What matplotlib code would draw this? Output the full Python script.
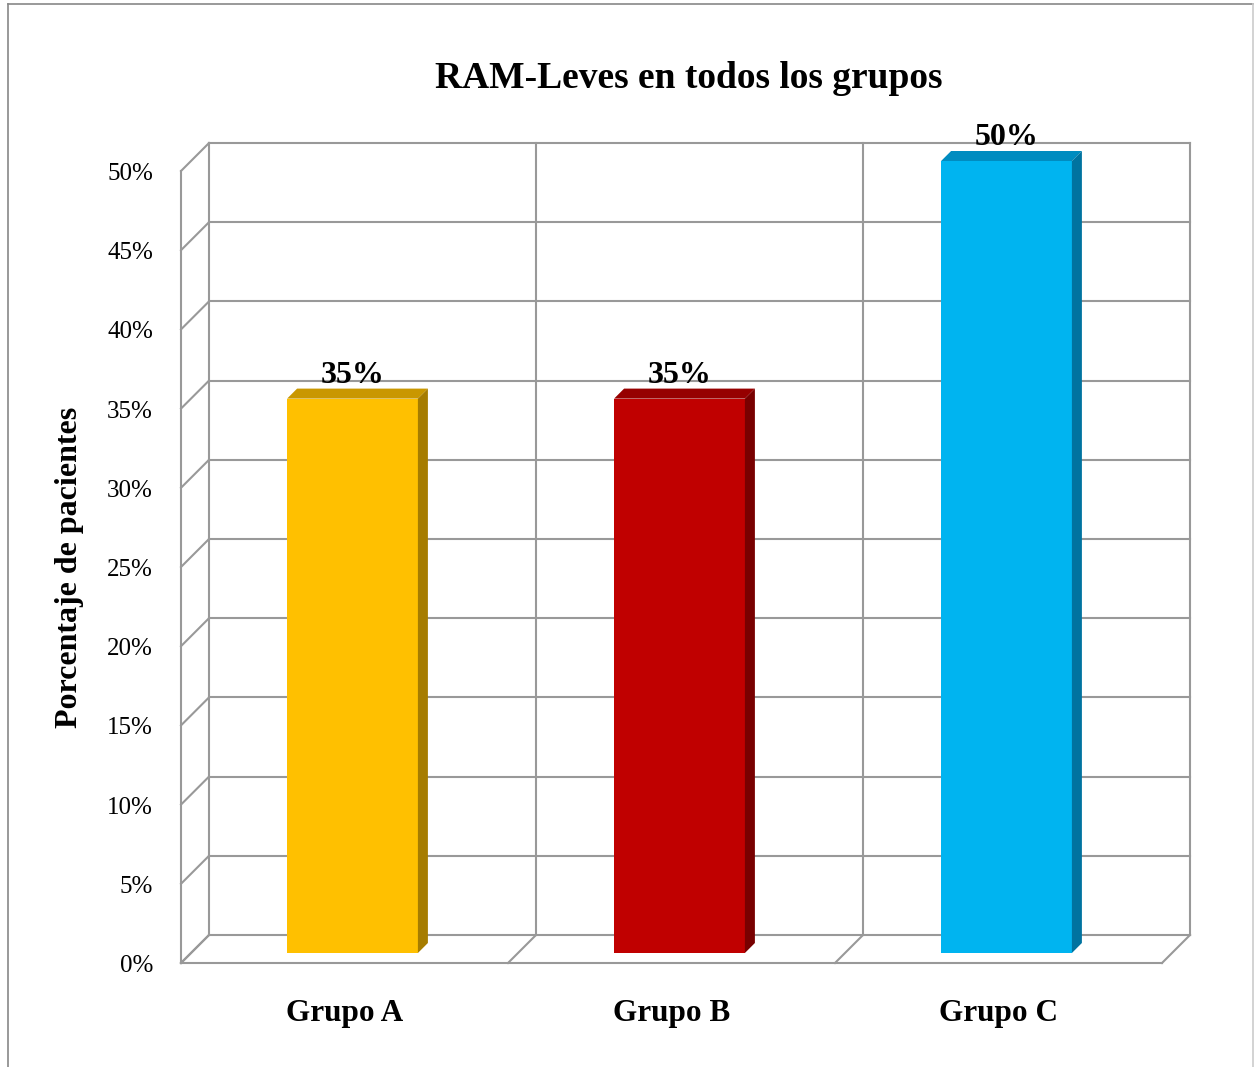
import matplotlib.pyplot as plt
from matplotlib.patches import Polygon
from matplotlib.lines import Line2D

# Data
categories = ['Grupo A', 'Grupo B', 'Grupo C']
values = [35, 35, 50]
yticks = [0, 5, 10, 15, 20, 25, 30, 35, 40, 45, 50]

front_colors = ['#FFC000', '#C00000', '#00B4F0']
top_colors = ['#C99700', '#960000', '#008CC0']
side_colors = ['#A67C00', '#780000', '#0073A0']

plt.rcParams['font.family'] = ['Liberation Serif', 'DejaVu Serif']

W, H = 1255, 1067
fig = plt.figure(figsize=(W / 100, H / 100), dpi=100)
ax = fig.add_axes([181 / W, (H - 963) / H, 981 / W, 792 / H])
ax.set_xlim(0, 3)
ax.set_ylim(0, 50)
ax.axis('off')

# pixel -> data units, used for the fake 3D depth
kx = 3 / 981
ky = 50 / 792
WALL = 28      # depth of back wall in px
BAR_F = 10     # depth of bar front face
BAR_B = 20     # depth of bar back face


def proj(x, y, d):
    return x + d * kx, y + d * ky


grid = dict(color='#999999', lw=1.5, clip_on=False, zorder=1)

# back wall horizontal lines and side wall diagonals
for t in yticks:
    x0, y0 = proj(0, t, WALL)
    x1, y1 = proj(3, t, WALL)
    ax.plot([x0, x1], [y0, y1], **grid)
    ax.plot([0, x0], [t, y0], **grid)

# back wall verticals and floor diagonals
for i in range(4):
    xb, yb0 = proj(i, 0, WALL)
    _, yb1 = proj(i, 50, WALL)
    ax.plot([xb, xb], [yb0, yb1], **grid)
    ax.plot([i, xb], [0, yb0], **grid)

# front edges
ax.plot([0, 0], [0, 50], **grid)
ax.plot([0, 3], [0, 0], **grid)

# bars
bw = 0.4
for i, v in enumerate(values):
    xc = i + 0.5 - 2 * kx
    xl = xc - bw / 2
    xr = xc + bw / 2
    fl = proj(xl, 0, BAR_F)
    fr = proj(xr, 0, BAR_F)
    tl = proj(xl, v, BAR_F)
    tr = proj(xr, v, BAR_F)
    bl_t = proj(xl, v, BAR_B)
    br_t = proj(xr, v, BAR_B)
    br_b = proj(xr, 0, BAR_B)
    ax.add_patch(Polygon([fl, fr, tr, tl], closed=True, facecolor=front_colors[i],
                         edgecolor='none', clip_on=False, zorder=3))
    ax.add_patch(Polygon([tl, tr, br_t, bl_t], closed=True, facecolor=top_colors[i],
                         edgecolor='none', clip_on=False, zorder=3))
    ax.add_patch(Polygon([fr, br_b, br_t, tr], closed=True, facecolor=side_colors[i],
                         edgecolor='none', clip_on=False, zorder=3))
    lx, _ = proj(xc, v, BAR_F)
    _, ly = proj(xc, v, BAR_B)
    ax.text(lx, ly - 1 * ky, f'{v}%', ha='center', va='bottom', fontsize=23,
            fontweight='bold', zorder=4)

# tick labels
for t in yticks:
    ax.text(-28 * kx, t - 3 * ky, f'{t}%', ha='right', va='center', fontsize=18)

for i, c in enumerate(categories):
    ax.text(i + 0.5, -51 * ky, c, ha='center', va='center', fontsize=22.5,
            fontweight='bold')

ax.text(-111 * kx, 25, 'Porcentaje de pacientes', rotation=90, ha='center',
        va='center', fontsize=23, fontweight='bold')

fig.text(689 / W, 1 - 78 / H, 'RAM-Leves en todos los grupos', ha='center',
         va='center', fontsize=27, fontweight='bold')

# outer border
fig.add_artist(Line2D([8 / W, 1253 / W], [1 - 4 / H, 1 - 4 / H], color='#888888', lw=1.2))
fig.add_artist(Line2D([8 / W, 8 / W], [1 - 4 / H, 0], color='#888888', lw=1.2))
fig.add_artist(Line2D([1253 / W, 1253 / W], [1 - 4 / H, 0], color='#cccccc', lw=1.2))

fig.savefig('out.png', dpi=100)
